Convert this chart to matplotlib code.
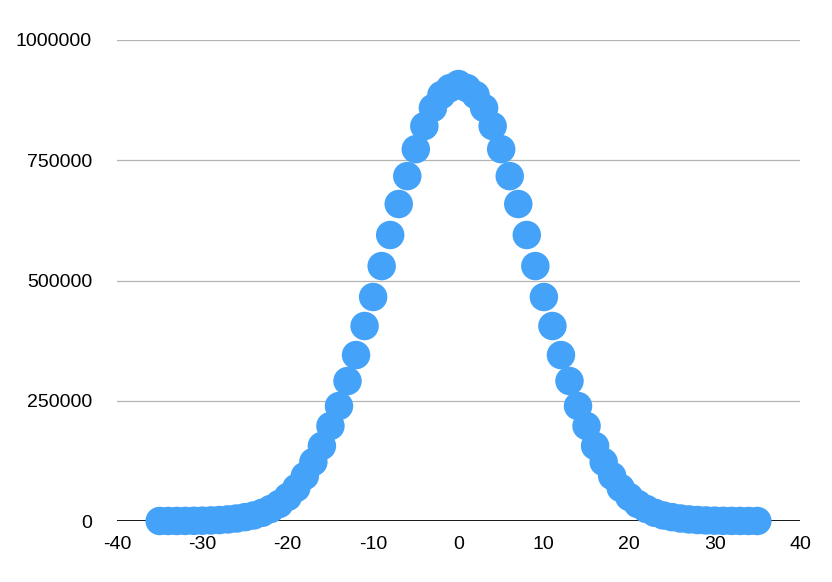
import matplotlib
matplotlib.use("Agg")
from matplotlib import pyplot as plt
import numpy as np

plt.rcParams['font.family'] = ['Liberation Sans', 'DejaVu Sans']

# data
xs = list(range(-35, 36))
right_half = [908500, 900000, 885600, 858600, 821000, 773000, 717000, 659000,
              594600, 530000, 465700, 405400, 345000, 291000, 239000, 197500,
              156000, 122700, 93500, 68600, 50000, 35300, 25000, 17000, 11500,
              8000, 5200, 3300, 2000, 1200, 700, 400, 200, 100, 60, 30]
ys = right_half[:0:-1] + right_half

yticks = [0, 250000, 500000, 750000, 1000000]
xticks = [-40, -30, -20, -10, 0, 10, 20, 30, 40]

fig = plt.figure(figsize=(8.32, 5.82), dpi=100)
ax = fig.add_axes([117/832, 61/582, 683/832, 481/582])

for t in yticks[1:]:
    ax.axhline(t, color='#b4b4b4', lw=0.9, zorder=1)
ax.axhline(0, color='black', lw=2, zorder=1)

ax.scatter(xs, ys, s=420, color='#44a2f8', edgecolors='none', zorder=3, clip_on=False)

ax.set_xlim(-40, 40)
ax.set_ylim(0, 1000000)
ax.set_xticks(xticks)
ax.set_yticks(yticks)
ax.set_xticklabels([str(v) for v in xticks])
ax.set_yticklabels([str(v) for v in yticks])
ax.tick_params(length=0, labelsize=14, colors='black')
ax.tick_params(axis='y', pad=18)
ax.tick_params(axis='x', pad=11)
for sp in ax.spines.values():
    sp.set_visible(False)

plt.savefig('out.png', dpi=100)
